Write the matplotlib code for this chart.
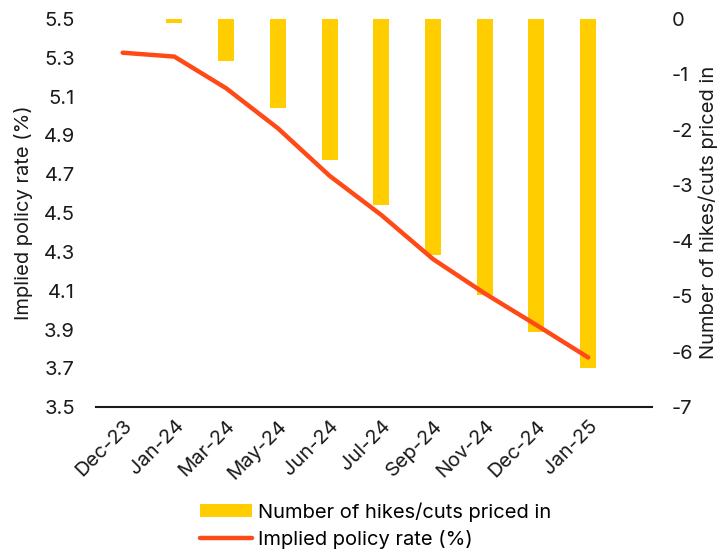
import matplotlib
matplotlib.use("Agg")
import matplotlib.pyplot as plt
import numpy as np

plt.rcParams["font.family"] = ["Inter", "DejaVu Sans"]
plt.rcParams["axes.unicode_minus"] = False

months = ["Dec-23", "Jan-24", "Mar-24", "May-24", "Jun-24", "Jul-24",
          "Sep-24", "Nov-24", "Dec-24", "Jan-25"]
hikes_cuts = [0.0, -0.08, -0.75, -1.61, -2.54, -3.35, -4.26, -4.98, -5.64, -6.29]
policy_rate = [5.326, 5.306, 5.143, 4.937, 4.692, 4.49, 4.263, 4.086, 3.923, 3.756]

bar_color = "#FFCD00"
line_color = "#FF4A17"
text_color = "#1a1a1a"
fs = 14.5

fig = plt.figure(figsize=(7.2, 5.57), dpi=100)
ax = fig.add_axes([0.133, 0.269, 0.773, 0.697])
ax2 = ax.twinx()

x = np.arange(len(months))
bars = ax2.bar(x, hikes_cuts, width=0.31, color=bar_color,
               label="Number of hikes/cuts priced in", zorder=1)
line, = ax.plot(x, policy_rate, color=line_color, lw=3.2,
                solid_capstyle="round", solid_joinstyle="round",
                label="Implied policy rate (%)", zorder=3)

# line axis drawn above the bars
ax.set_zorder(ax2.get_zorder() + 1)
ax.patch.set_visible(False)

ax.set_xlim(-0.52, 10.24)
ax.set_ylim(3.5, 5.5)
ax.set_yticks(np.arange(3.5, 5.51, 0.2))
ax.set_yticklabels([f"{v:.1f}" for v in np.arange(3.5, 5.51, 0.2)])
ax2.set_ylim(-7, 0)
ax2.set_yticks(range(-7, 1))

ax.set_xticks(x)
ax.set_xticklabels(months, rotation=45, ha="right", rotation_mode="anchor")

for a in (ax, ax2):
    for s in ("top", "left", "right"):
        a.spines[s].set_visible(False)
    a.tick_params(length=0, labelsize=fs, colors=text_color)
ax2.spines["bottom"].set_visible(False)
ax.spines["bottom"].set_linewidth(1.5)
ax.spines["bottom"].set_color(text_color)
ax.tick_params(axis="y", pad=15)
ax.tick_params(axis="x", pad=7)
ax2.tick_params(axis="y", pad=14)

ax.set_ylabel("Implied policy rate (%)", fontsize=fs, color=text_color, labelpad=8)
# right axis title placed by hand so it sits flush with the edge
fig.text(0.984, 0.618, "Number of hikes/cuts priced in", rotation=90,
         ha="center", va="center", fontsize=fs, color=text_color)

fig.legend([bars, line], ["Number of hikes/cuts priced in", "Implied policy rate (%)"],
           loc="lower center", bbox_to_anchor=(0.522, -0.018), frameon=False,
           fontsize=fs, handlelength=2.6, handleheight=0.6, handletextpad=0.3,
           labelspacing=0.4)

fig.savefig("out.png", dpi=100)
